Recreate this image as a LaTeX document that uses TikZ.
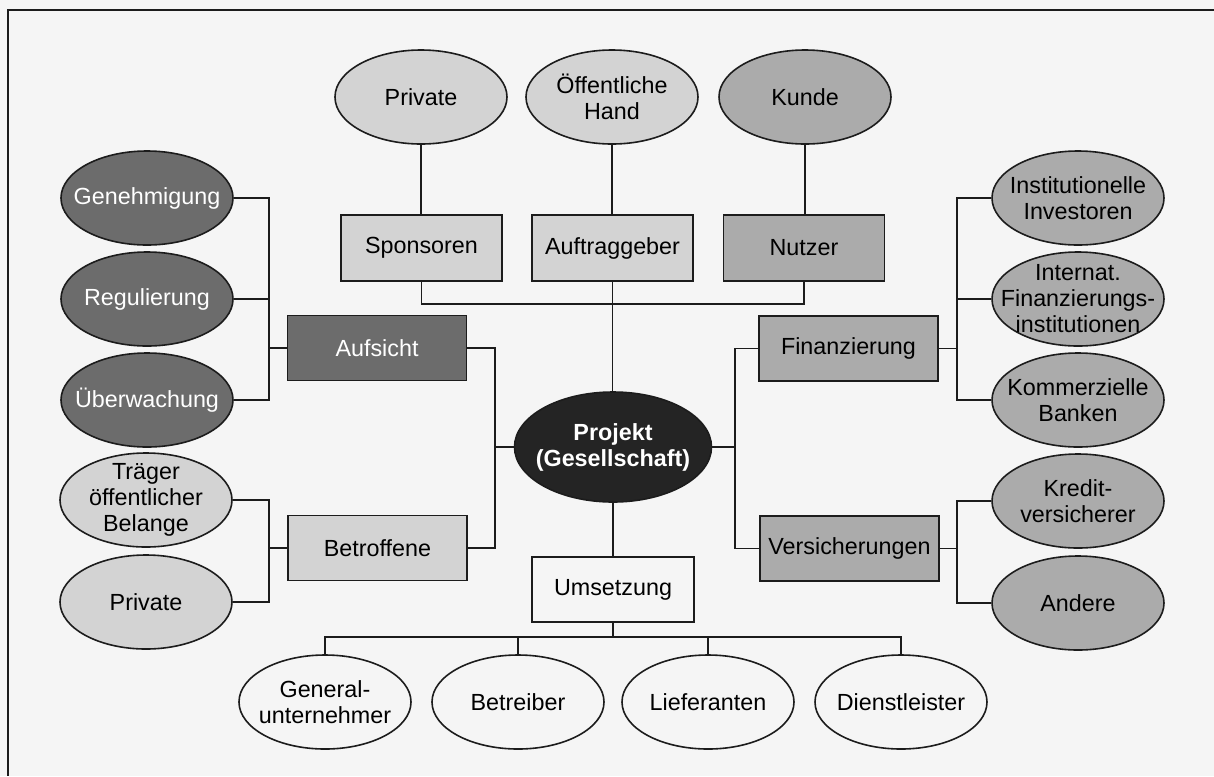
\documentclass[tikz,border=0pt]{standalone}
\usepackage{fontspec}
\setmainfont{Liberation Sans}
\usetikzlibrary{shapes.geometric}
\definecolor{bg}{HTML}{F5F5F5}
\definecolor{lightg}{HTML}{D3D3D3}
\definecolor{midg}{HTML}{ABABAB}
\definecolor{darkg}{HTML}{6C6C6C}
\definecolor{blk}{HTML}{242424}
\definecolor{ln}{HTML}{1C1C1C}
\begin{document}
\begin{tikzpicture}[x=0.75pt,y=-0.75pt,
  font=\fontsize{17.5}{19.5}\selectfont,
  ell/.style={ellipse, draw=ln, line width=1.2pt, minimum width=129pt, minimum height=70.5pt, inner sep=0pt},
  bigell/.style={ellipse, draw=ln, line width=1.2pt, minimum width=147.75pt, minimum height=82.5pt, inner sep=0pt},
  topbox/.style={rectangle, draw=ln, line width=1.2pt, minimum width=120.75pt, minimum height=49.5pt, inner sep=0pt},
  sidebox/.style={rectangle, draw=ln, line width=1.2pt, minimum width=134.25pt, minimum height=48.75pt, inner sep=0pt},
  txt/.style={align=center, inner sep=0pt},
  wtxt/.style={align=center, inner sep=0pt, text=white},
  conn/.style={draw=ln, line width=1.3pt}]
\fill[bg] (0,0) rectangle (1214,776);
\useasboundingbox (0,0) rectangle (1214,776);
\draw[ln, line width=1.8pt] (1214,10) -- (8,10) -- (8,776);

% top row
\node[ell, fill=lightg, label={[txt]center:Private}] (priv) at (421,97) {};
\node[ell, fill=lightg, label={[txt]center:{Öffentliche\\Hand}}] (oeff) at (612,97) {};
\node[ell, fill=midg, label={[txt]center:Kunde}] (kunde) at (805,97) {};
\node[topbox, fill=lightg] (spon) at (421.5,248) {Sponsoren};
\node[topbox, fill=lightg] (auft) at (612.5,248) {Auftraggeber};
\node[topbox, fill=midg] (nutz) at (804,248) {Nutzer};

% left
\node[ell, fill=darkg, label={[wtxt]center:Genehmigung}] (gen) at (147,198) {};
\node[ell, fill=darkg, label={[wtxt]center:Regulierung}] (reg) at (147,299) {};
\node[ell, fill=darkg, label={[wtxt]center:Überwachung}] (ueb) at (147,400) {};
\node[ell, fill=lightg, label={[txt]center:{Träger\\öffentlicher\\Belange}}] (trae) at (146,500) {};
\node[ell, fill=lightg, label={[txt]center:Private}] (privl) at (146,602) {};
\node[sidebox, fill=darkg, text=white] (aufs) at (377,348) {Aufsicht};
\node[sidebox, fill=lightg] (betr) at (377.5,548) {Betroffene};

% centre
\node[bigell, fill=blk, label={[wtxt, font=\fontsize{17.5}{19.5}\selectfont\bfseries]center:{Projekt\\(Gesellschaft)}}] (proj) at (613,447) {};
\node[topbox, fill=bg, minimum width=121.5pt, minimum height=48.75pt] (ums) at (613,589.5) {Umsetzung};

% right
\node[sidebox, fill=midg] (fin) at (848.5,348.5) {Finanzierung};
\node[sidebox, fill=midg] (vers) at (849.5,548.5) {Versicherungen};
\node[ell, fill=midg, label={[txt]center:{Institutionelle\\Investoren}}] (inst) at (1078,198) {};
\node[ell, fill=midg, label={[txt]center:{Internat.\\Finanzierungs-\\institutionen}}] (intl) at (1078,299) {};
\node[ell, fill=midg, label={[txt]center:{Kommerzielle\\Banken}}] (komm) at (1078,400) {};
\node[ell, fill=midg, label={[txt]center:{Kredit-\\versicherer}}] (kred) at (1078,501) {};
\node[ell, fill=midg, label={[txt]center:Andere}] (andr) at (1078,603) {};

% bottom
\node[ell, fill=bg, label={[txt]center:{General-\\unternehmer}}] (gu) at (325,702) {};
\node[ell, fill=bg, label={[txt]center:Betreiber}] (betrb) at (518,702) {};
\node[ell, fill=bg, label={[txt]center:Lieferanten}] (lief) at (708,702) {};
\node[ell, fill=bg, label={[txt]center:Dienstleister}] (dl) at (901,702) {};

% junctions
\coordinate (tj) at (612.5,304);
\coordinate (lj1) at (269,348);
\coordinate (lj2) at (269,548);
\coordinate (pl) at (495,447);
\coordinate (pr) at (735,447);
\coordinate (rj1) at (957,348.5);
\coordinate (rj2) at (957,548.5);
\coordinate (bj) at (613,637);

% connectors top
\draw[conn] (priv.south) -- (priv.south |- spon.north);
\draw[conn] (oeff.south) -- (oeff.south |- auft.north);
\draw[conn] (kunde.south) -- (kunde.south |- nutz.north);
\draw[conn] (spon.south) |- (tj) -| (nutz.south);
\draw[conn] (auft.south) -- (auft.south |- proj.north);

% connectors left
\draw[conn] (gen.east) -- (gen.east -| lj1) |- (ueb.east);
\draw[conn] (reg.east) -- (reg.east -| lj1);
\draw[conn] (lj1) -- (aufs.west);
\draw[conn] (trae.east) -- (trae.east -| lj2) |- (privl.east);
\draw[conn] (lj2) -- (betr.west);
\draw[conn] (aufs.east) -| (pl) |- (betr.east);
\draw[conn] (pl) -- (proj.west);

% connectors right
\draw[conn] (fin.west) -| (pr) |- (vers.west);
\draw[conn] (pr) -- (proj.east);
\draw[conn] (inst.west) -- (inst.west -| rj1) |- (komm.west);
\draw[conn] (intl.west) -- (intl.west -| rj1);
\draw[conn] (rj1) -- (fin.east);
\draw[conn] (kred.west) -- (kred.west -| rj2) |- (andr.west);
\draw[conn] (rj2) -- (vers.east);

% connectors bottom
\draw[conn] (proj.south) -- (proj.south |- ums.north);
\draw[conn] (ums.south) -- (bj);
\draw[conn] (gu.north) |- (bj) -| (dl.north);
\draw[conn] (betrb.north) -- (betrb.north |- bj);
\draw[conn] (lief.north) -- (lief.north |- bj);
\end{tikzpicture}
\end{document}
